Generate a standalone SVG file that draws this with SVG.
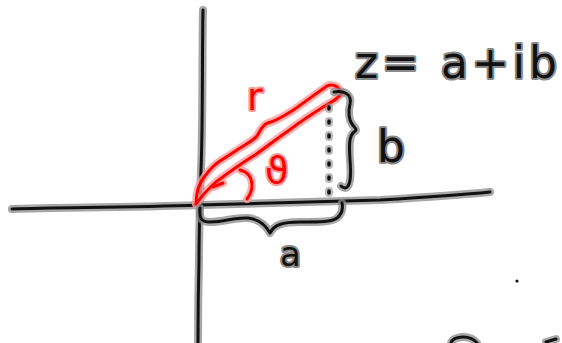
<svg xmlns="http://www.w3.org/2000/svg" xmlns:xlink="http://www.w3.org/1999/xlink" width="562" height="343" viewBox="0 0 562 343">
<style>
.h{fill:none;stroke:#8a8a8a;stroke-width:8;stroke-linecap:round;stroke-linejoin:round;opacity:.75}
.k{fill:none;stroke:#111;stroke-width:3;stroke-linecap:round;stroke-linejoin:round}
.rh{fill:none;stroke:#ff9a9a;stroke-width:8;stroke-linecap:round;stroke-linejoin:round;opacity:.8}
.r{fill:none;stroke:#f00;stroke-width:3;stroke-linecap:round;stroke-linejoin:round}
.d{fill:none;stroke:#111;stroke-width:3.5;stroke-dasharray:2 12;stroke-linecap:round}
.dh{fill:none;stroke:#8a8a8a;stroke-width:8;stroke-dasharray:2 12;stroke-linecap:round;opacity:.6}
.t{font-family:"DejaVu Sans",sans-serif;fill:#111;stroke:#8a8a8a;stroke-width:4;paint-order:stroke;stroke-linejoin:round}
.tr{font-family:"DejaVu Sans",sans-serif;fill:#f00;stroke:#ff9a9a;stroke-width:4;paint-order:stroke;stroke-linejoin:round}
</style>
<defs>
<path id="vax" d="M203,10 C202,60 203,120 201,170 C200,200 199,230 199,260 C198,300 198,325 198,343"/>
<path id="hax" d="M12,209 C60,207 120,208 200,205 C260,203 320,202 380,200 C430,197 460,195 490,192"/>
<path id="brr" d="M334,92 C345,90 352,95 350,104 C348,112 349,120 352,124 C355,128 358,130 354,132 C349,136 349,145 350,160 C351,172 351,182 348,186 C346,189 343,188 341,186"/>
<path id="brb" d="M200,208 C199,218 201,222 210,222 C225,222 235,217 248,218 C258,219 265,224 270,233 C274,225 282,222 300,222 C320,222 332,222 337,218 C342,214 343,208 342,203"/>
<path id="dot" d="M329,107 L329,193"/>
<path id="red1" d="M196,204 C196,192 199,183 205,176 C210,169 214,165 220,161 C228,156 234,152 240,148 C248,143 254,140 257,136 C260,131 262,125 268,123 C276,121 282,117 292,111 C305,102 318,92 327,86 C333,83 339,87 342,93 C338,98 334,101 328,104 C315,112 300,122 288,131 C275,140 265,148 255,155 C240,164 228,173 216,182 C207,190 201,197 196,204"/>
<path id="red3" d="M213,187 L223,183"/>
<path id="red2" d="M240,170 C248,172 252,178 252,185 C252,191 250,195 247,199"/>
</defs>
<g id="axes">
<use href="#vax" class="h"/><use href="#vax" class="k"/>
<use href="#hax" class="h"/><use href="#hax" class="k"/>
</g>
<g id="vector">
<use href="#red1" class="rh"/><use href="#red3" class="rh"/><use href="#red2" class="rh"/>
<use href="#red1" class="r"/><use href="#red3" class="r"/><use href="#red2" class="r"/>
<text class="tr" x="247" y="110" font-size="38">r</text>
<text class="tr" x="265" y="183" font-size="38">ϑ</text>
</g>
<g id="connectors">
<use href="#dot" class="dh"/><use href="#dot" class="d"/>
<use href="#brr" class="h"/><use href="#brr" class="k"/>
<use href="#brb" class="h"/><use href="#brb" class="k"/>
</g>
<g id="labels">
<text class="t" x="355" y="78" font-size="44" letter-spacing="4">z= a+ib</text>
<text class="t" x="377" y="162" font-size="44">b</text>
<text class="t" x="280" y="266" font-size="34">a</text>
<circle cx="517" cy="281" r="1.6" fill="#111"/>
<path class="h" d="M451,343 C453,336 470,334 477,343"/><path class="k" d="M451,343 C453,336 470,334 477,343"/>
<path class="h" d="M546,342 L556,339"/><path class="k" d="M546,342 L556,339"/>
</g>
</svg>
